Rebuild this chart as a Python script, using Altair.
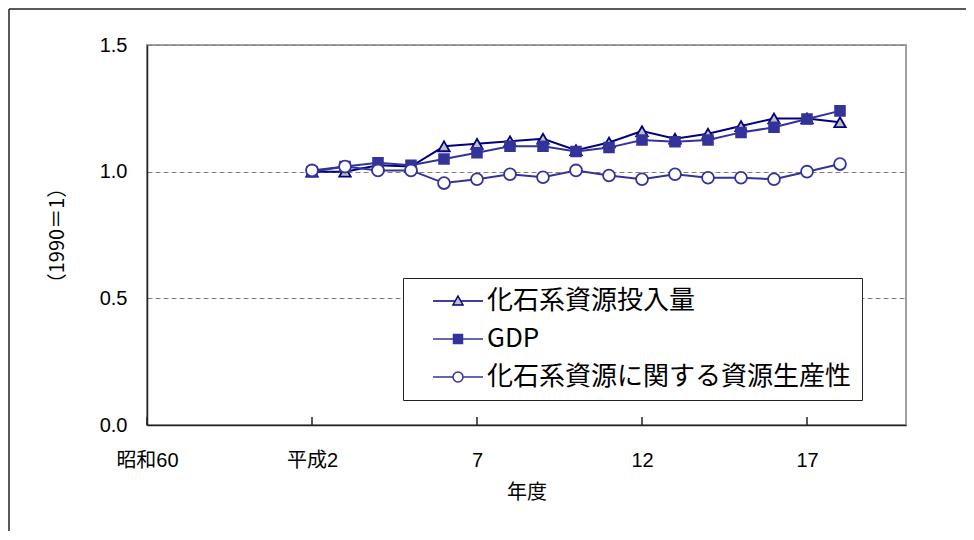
import altair as alt
import pandas as pd

years = list(range(1990, 2007))
fossil_input = [1.00, 1.00, 1.025, 1.02, 1.10, 1.11, 1.12, 1.13, 1.085, 1.115, 1.16, 1.13, 1.15, 1.18, 1.21, 1.21, 1.195]
gdp = [1.00, 1.02, 1.035, 1.025, 1.05, 1.075, 1.10, 1.10, 1.08, 1.095, 1.125, 1.118, 1.125, 1.155, 1.175, 1.208, 1.24]
productivity = [1.005, 1.02, 1.005, 1.005, 0.955, 0.97, 0.99, 0.978, 1.005, 0.985, 0.97, 0.99, 0.976, 0.976, 0.97, 1.0, 1.03]

series_names = ["化石系資源投入量", "GDP", "化石系資源に関する資源生産性"]
series_values = [fossil_input, gdp, productivity]

tick_values = [1985, 1990, 1995, 2000, 2005]
tick_labels = ["昭和60", "平成2", "7", "12", "17"]
y_ticks = [0.0, 0.5, 1.0, 1.5]

line_colors = ["#000080", "#333399", "#333399"]
point_shapes = ["triangle-up", "square", "circle"]
point_fills = ["#c0c0c0", "#333399", "#ffffff"]
point_strokes = ["#000080", "#333399", "#333399"]
point_sizes = [130, 95, 140]

legend_paths = [
    "M-5,0L-0.556,0M0.556,0L5,0M0,-1L1,0.8L-1,0.8Z",
    "M-5,0L-0.9,0M0.9,0L5,0M-0.9,-0.9H0.9V0.9H-0.9Z",
    "M-5,0L-1,0M1,0L5,0M1,0A1,1,0,1,1,-1,0A1,1,0,1,1,1,0Z",
]

rows = []
for name, vals in zip(series_names, series_values):
    for yr, v in zip(years, vals):
        rows.append({"year": yr, "value": v, "series": name})
df = pd.DataFrame(rows)

label_expr = ""
for v, lab in zip(tick_values, tick_labels):
    label_expr += f"datum.value == {v} ? '{lab}' : "
label_expr += "''"

xscale = alt.Scale(domain=[1985, 2008], nice=False, zero=False)
yscale = alt.Scale(domain=[0, 1.5], nice=False)

FONT = "Liberation Sans, Noto Sans CJK JP, sans-serif"
JFONT = "Noto Sans CJK JP, sans-serif"

x_enc = alt.X(
    "year:Q", scale=xscale,
    axis=alt.Axis(values=tick_values, labelExpr=label_expr, ticks=False, tickSize=0,
                  grid=False, title="年度", labelFont=FONT, labelFontSize=20,
                  labelColor="black", labelPadding=25, titleFont=JFONT,
                  titleFontSize=20, titleFontWeight="normal", titleColor="black",
                  titlePadding=12, domainColor="#222222", domainWidth=1.5,
                  labelFlush=False, labelOverlap=False),
)
y_enc = alt.Y(
    "value:Q", scale=yscale,
    axis=alt.Axis(values=y_ticks, format=".1f", ticks=False, tickSize=0, grid=True,
                  gridDash=[5, 3], gridColor="#808080", gridWidth=1,
                  title="（1990＝1）", labelFont=FONT, labelFontSize=20,
                  labelColor="black", labelPadding=20, titleFont=JFONT,
                  titleFontSize=20, titleFontWeight="normal", titleColor="black",
                  titlePadding=32, domainColor="#222222", domainWidth=1.5),
)

layers = []
for i, name in enumerate(series_names):
    sub = df[df["series"] == name]
    layers.append(
        alt.Chart(sub).mark_line(color=line_colors[i], strokeWidth=2).encode(x=x_enc, y=y_enc)
    )
    layers.append(
        alt.Chart(sub).mark_point(shape=point_shapes[i], filled=True, fill=point_fills[i],
                                  stroke=point_strokes[i], strokeWidth=1.8,
                                  size=point_sizes[i], opacity=1).encode(
            x=alt.X("year:Q", scale=xscale), y=alt.Y("value:Q", scale=yscale))
    )

leg = alt.Legend(orient="none", legendX=256, legendY=233, title=None,
                 strokeColor="#222222", fillColor="white", padding=10,
                 symbolSize=100, symbolStrokeWidth=1.5, symbolOffset=32,
                 labelOffset=16, labelFont=JFONT, labelFontSize=26,
                 labelColor="black", labelLimit=0, rowPadding=12,
                 symbolOpacity=1)

legend_layer = alt.Chart(df).transform_filter("false").mark_point(
    filled=True, opacity=1, strokeWidth=1.5).encode(
    x=alt.X("year:Q", scale=xscale),
    y=alt.Y("value:Q", scale=yscale),
    shape=alt.Shape("series:N", scale=alt.Scale(domain=series_names, range=legend_paths), legend=leg),
    fill=alt.Fill("series:N", scale=alt.Scale(domain=series_names, range=point_fills), legend=leg),
    stroke=alt.Stroke("series:N", scale=alt.Scale(domain=series_names, range=point_strokes), legend=leg),
)

tick_df = pd.DataFrame({"year": tick_values})
inner_ticks = alt.Chart(tick_df).mark_rule(color="#222222", strokeWidth=1.5).encode(
    x=alt.X("year:Q", scale=xscale), y=alt.value(380), y2=alt.value(372))

one = alt.Data(values=[{"k": 1}])
frame_left = alt.Chart(one).mark_rule(color="#222222", strokeWidth=1.5).encode(
    x=alt.value(-138), y=alt.value(-36), y2=alt.value(620))
frame_top = alt.Chart(one).mark_rule(color="#222222", strokeWidth=1.5).encode(
    x=alt.value(-138), x2=alt.value(840), y=alt.value(-36))

chart = alt.layer(frame_left, frame_top, inner_ticks, *layers, legend_layer).properties(
    width=759, height=380, autosize="none",
    padding={"left": 139, "top": 37, "right": 60, "bottom": 106},
    background="white",
).configure_view(stroke="#a0a0a0", strokeWidth=2)

chart.save("out.html", embed_options={"renderer": "svg", "actions": False})
